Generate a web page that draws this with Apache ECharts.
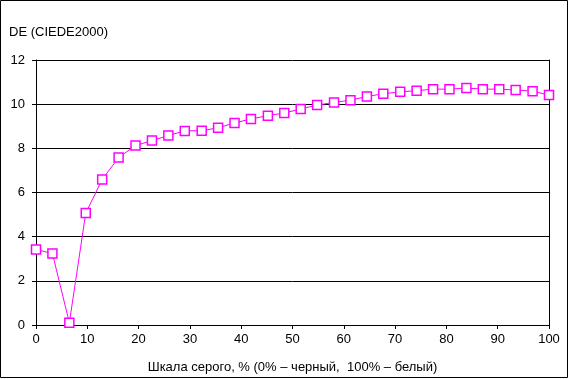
<!DOCTYPE html>
<html><head><meta charset="utf-8">
<script src="https://cdn.jsdelivr.net/npm/echarts@6/dist/echarts.min.js"></script>
<style>html,body{margin:0;padding:0;background:#fff}#c{width:569px;height:379px}</style>
</head><body><div id="c"></div>
<script>
var grayPct = [0,3.2,6.5,9.7,12.9,16.1,19.4,22.6,25.8,29.0,32.3,35.5,38.7,41.9,45.2,48.4,51.6,54.8,58.1,61.3,64.5,67.7,71.0,74.2,77.4,80.6,83.9,87.1,90.3,93.5,96.8,100];
var deValues = [3.42,3.24,0.10,5.07,6.59,7.58,8.13,8.35,8.58,8.79,8.80,8.93,9.15,9.33,9.48,9.60,9.78,9.96,10.08,10.18,10.35,10.47,10.56,10.61,10.68,10.68,10.73,10.68,10.68,10.64,10.59,10.41];
var yTitle = 'DE (CIEDE2000)';
var xTitle = 'Шкала серого, % (0% – черный,  100% – белый)';
var font = 'Liberation Sans, Arial, sans-serif';
var chart = echarts.init(document.getElementById('c'), null, {renderer:'canvas'});
chart.setOption({
  animation:false,
  backgroundColor:'#fff',
  title:{text:yTitle,left:4,top:21,textStyle:{fontFamily:font,fontSize:13,fontWeight:'normal',color:'#000'}},
  grid:{left:36,right:20,top:60,bottom:51.5,containLabel:false},
  graphic:[{type:'rect',shape:{x:0.5,y:0.5,width:567,height:377},style:{fill:'none',stroke:'#000',lineWidth:1},silent:true}],
  xAxis:{type:'value',min:0,max:100,interval:10,
    name:xTitle,nameLocation:'middle',nameGap:36,
    nameTextStyle:{fontFamily:font,fontSize:13,color:'#000'},
    axisLine:{show:true,lineStyle:{color:'#000',width:1}},
    axisTick:{show:true,length:4,lineStyle:{color:'#000'}},
    axisLabel:{fontFamily:font,fontSize:13,color:'#000',margin:8},
    splitLine:{show:false}},
  yAxis:[{type:'value',min:0,max:12,interval:2,
    axisLine:{show:true,lineStyle:{color:'#000',width:1}},
    axisTick:{show:true,length:4,lineStyle:{color:'#000'}},
    axisLabel:{fontFamily:font,fontSize:13,color:'#000',margin:11},
    splitLine:{show:true,lineStyle:{color:'#000',width:1}}},
   {type:'value',min:0,max:12,interval:2,position:'right',
    axisLine:{show:true,lineStyle:{color:'#000',width:1}},
    axisTick:{show:false},axisLabel:{show:false},splitLine:{show:false}}],
  series:[{type:'line',data:grayPct.map(function(x,i){return [x,deValues[i]];}),
    symbol:'rect',symbolSize:9,
    lineStyle:{color:'#ff00ff',width:1},
    itemStyle:{color:'#fff',borderColor:'#ff00ff',borderWidth:1.5},
    clip:false}]
});
</script></body></html>
